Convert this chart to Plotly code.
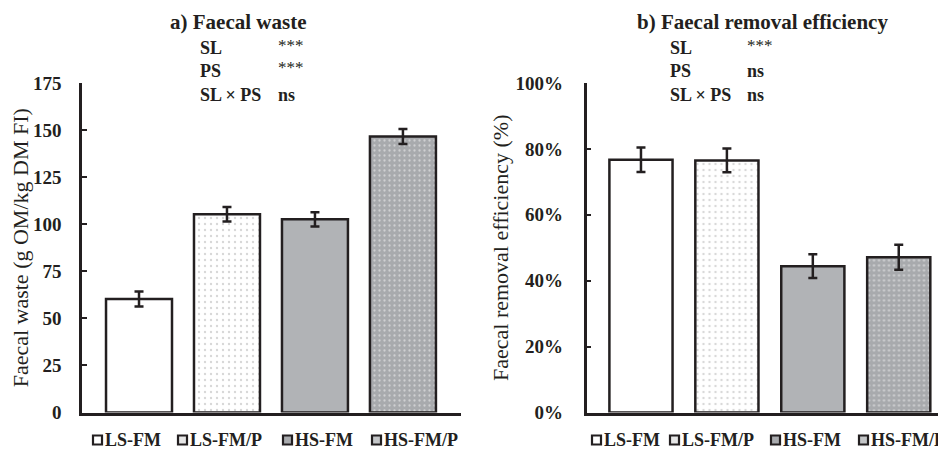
import plotly.graph_objects as go

# ---------------- data ----------------
groups = ["LS-FM", "LS-FM/P", "HS-FM", "HS-FM/P"]
waste = [60.3, 105.3, 102.6, 146.6]
waste_err = [4.0, 3.9, 3.8, 4.0]
removal = [76.7, 76.5, 44.4, 47.1]
removal_err = [3.7, 3.6, 3.6, 3.8]
waste_ticks = [0, 25, 50, 75, 100, 125, 150, 175]
removal_ticks = [0, 20, 40, 60, 80, 100]
removal_tick_labels = ["0%", "20%", "40%", "60%", "80%", "100%"]
stats_terms = ["SL", "PS", "SL × PS"]
stats_a = ["***", "***", "ns"]
stats_b = ["***", "ns", "ns"]

# ---------------- styles ----------------
FONT = "Liberation Serif"
INK = "#231f20"
bg_cols = ["#ffffff", "#ffffff", "#b1b3b6", "#a8aaad"]
pat_shapes = ["", ".", "", "."]
pat_fg = ["#ffffff", "#b0b0b0", "#ffffff", "#f6f6f6"]
pat_size = [6, 6, 6, 5]
pat_sol = [0.1, 0.12, 0.1, 0.16]
legend_fill = ["#ffffff", "#e6e6e6", "#a9abae", "#c4c6c8"]

# the page places the figure 8px from the top-left corner of the window
OFF = 8
W, H = 946 - OFF, 450 - OFF


def px(x):
    return (x - OFF) / W


def py(y):
    return 1 - (y - OFF) / H


fig = go.Figure()

err_style = dict(type="data", thickness=2.5, width=4.5, color=INK)

for vals, errs, xa, ya, bw in [(waste, waste_err, "x", "y", 0.75),
                               (removal, removal_err, "x2", "y2", 0.735)]:
    for i, g in enumerate(groups):
        pattern = dict(shape=pat_shapes[i], fgcolor=pat_fg[i], bgcolor=bg_cols[i],
                       size=pat_size[i], solidity=pat_sol[i], fillmode="overlay")
        fig.add_trace(go.Bar(
            x=[g], y=[vals[i]], name=g,
            error_y=dict(array=[errs[i]], **err_style),
            marker=dict(color=bg_cols[i], line=dict(color=INK, width=2.5), pattern=pattern),
            width=bw, xaxis=xa, yaxis=ya, showlegend=False, hoverinfo="x+y"))

ydom = [py(412.5), py(83)]
axis_common = dict(showline=True, linecolor=INK, linewidth=2.5, showgrid=False,
                   zeroline=False, fixedrange=True, automargin=False)
ytick_font = dict(family=FONT, size=19, color=INK, weight="bold")

fig.update_layout(
    width=W, height=H,
    margin=dict(l=0, r=0, t=0, b=0, autoexpand=False),
    plot_bgcolor="white", paper_bgcolor="white",
    barmode="overlay",
    font=dict(family=FONT, color=INK),
    xaxis=dict(domain=[px(82), px(461)], type="category", range=[-0.648, 3.66],
               showticklabels=False, ticks="", anchor="y", **axis_common),
    yaxis=dict(domain=ydom, range=[0, 175], tickvals=waste_ticks,
               ticktext=[f"<b>{v}</b>" for v in waste_ticks], ticks="inside",
               ticklen=5, tickwidth=2, tickcolor=INK, tickfont=ytick_font,
               ticklabelstandoff=14, anchor="x",
               title=dict(text="Faecal waste (g OM/kg DM FI)", standoff=5,
                          font=dict(family=FONT, size=22, color=INK)),
               **axis_common),
    xaxis2=dict(domain=[px(586.5), 1.0], type="category", range=[-0.634, 3.55],
                showticklabels=False, ticks="", anchor="y2", **axis_common),
    yaxis2=dict(domain=ydom, range=[0, 100], tickvals=removal_ticks,
                ticktext=[f"<b>{t}</b>" for t in removal_tick_labels],
                ticks="inside", ticklen=5, tickwidth=2, tickcolor=INK, tickfont=ytick_font,
                ticklabelstandoff=17, anchor="x2",
                title=dict(text="Faecal removal efficiency (%)", standoff=1,
                           font=dict(family=FONT, size=22, color=INK)),
                **axis_common),
)

annotations = []
bold = dict(family=FONT, size=21, color=INK, weight="bold")
annotations.append(dict(text="<b>a) Faecal waste</b>", x=px(237.5), y=py(22), xref="paper",
                        yref="paper", xanchor="center", yanchor="middle", showarrow=False,
                        font=bold))
annotations.append(dict(text="<b>b) Faecal removal efficiency</b>", x=px(762), y=py(22),
                        xref="paper", yref="paper", xanchor="center", yanchor="middle",
                        showarrow=False, font=bold))

row_y = [48, 71, 95]
stat_font = dict(family=FONT, size=18, color=INK, weight="bold")
star_font = dict(family=FONT, size=17, color=INK)
for (x_term, x_val, vals) in [(198, 276, stats_a), (668, 745, stats_b)]:
    for term, val, yy in zip(stats_terms, vals, row_y):
        annotations.append(dict(text=f"<b>{term}</b>", x=px(x_term), y=py(yy), xref="paper",
                                yref="paper", xanchor="left", yanchor="middle",
                                showarrow=False, font=stat_font))
        is_star = val == "***"
        annotations.append(dict(text=val if is_star else f"<b>{val}</b>", x=px(x_val),
                                y=py(yy - (3 if is_star else 0)),
                                xref="paper", yref="paper", xanchor="left", yanchor="middle",
                                showarrow=False, font=star_font if is_star else stat_font))

# manual legends (one under each panel)
shapes = []
leg_font = dict(family=FONT, size=18, color=INK, weight="bold")
for sq_lefts in ([93, 178, 283, 372], [592, 670, 771, 859]):
    for name, fill, xl in zip(groups, legend_fill, sq_lefts):
        shapes.append(dict(type="rect", xref="paper", yref="paper",
                           x0=px(xl), x1=px(xl + 9), y0=py(444.5), y1=py(435.5),
                           fillcolor=fill, line=dict(color=INK, width=2.2)))
        annotations.append(dict(text=f"<b>{name}</b>", x=px(xl + 10), y=py(440), xref="paper",
                                yref="paper", xanchor="left", yanchor="middle",
                                showarrow=False, font=leg_font))

fig.update_layout(annotations=annotations, shapes=shapes)

fig.write_html("out.html")
